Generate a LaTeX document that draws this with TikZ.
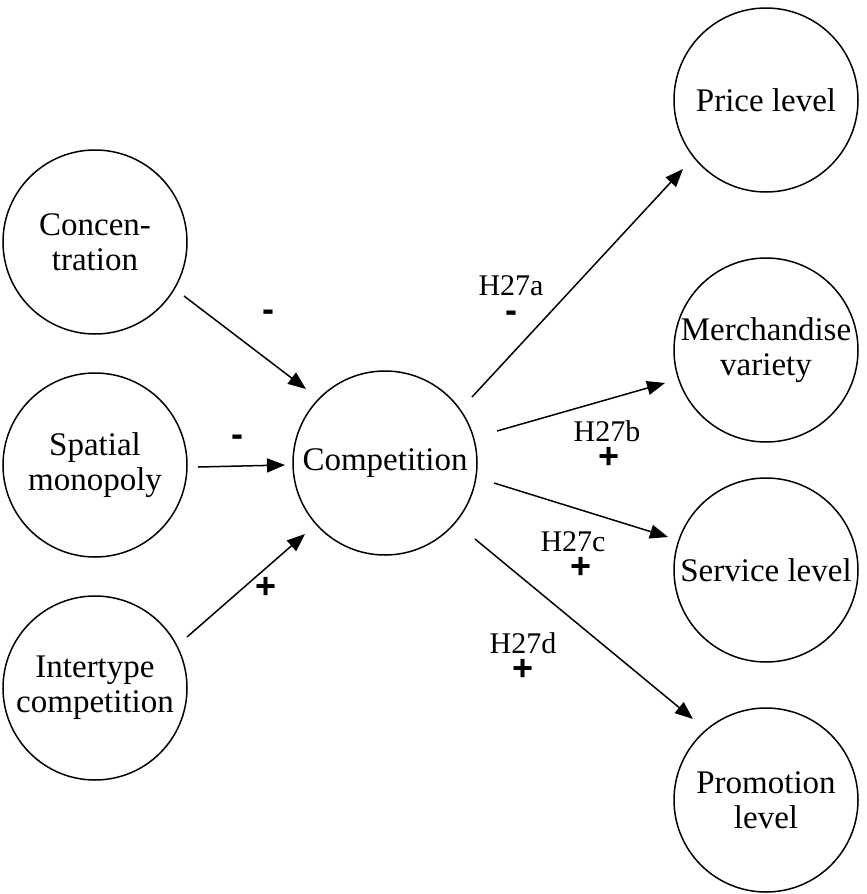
\documentclass[tikz,border=0pt]{standalone}
\usepackage{fontspec}
\setmainfont{Liberation Serif}
\newfontfamily\signfont{Liberation Sans}
\usetikzlibrary{arrows.meta,calc}
\begin{document}
\begin{tikzpicture}[x=1pt,y=-1pt,
  construct/.style={circle,draw,line width=1.5pt,minimum size=184pt,inner sep=0pt,
    align=center,font=\fontsize{33}{35}\selectfont},
  link/.style={line width=1.5pt,-{Triangle[length=18pt,width=14pt]}},
  hyp/.style={inner sep=0pt,align=center,font=\fontsize{30}{27}\selectfont},
  signtext/.style={font=\signfont\bfseries\fontsize{36}{30}\selectfont},
  sign/.style={inner sep=0pt,signtext}]
\useasboundingbox (0,0) rectangle (867,894);
% constructs
\node[construct] (conc) at (95,242) {Concen-\\tration};
\node[construct] (spat) at (95,465) {Spatial\\monopoly};
\node[construct] (inter) at (95,688) {Intertype\\competition};
\node[construct] (comp) at (385,463) {Competition};
\node[construct] (price) at (766,100) {Price level};
\node[construct] (merch) at (766,350) {Merchandise\\variety};
\node[construct] (serv) at (766,570) {Service level};
\node[construct] (promo) at (766,800) {Promotion\\level};
% antecedents of competition
\draw[link] ($(conc)+(89,54)$) -- ($(comp)+(-79,-74)$);
\draw[link] ($(spat)+(103,2)$) -- ($(comp)+(-100,2)$);
\draw[link] ($(inter)+(92,-51)$) -- ($(comp)+(-80,71)$);
% consequences of competition
\draw[link] ($(comp)+(87,-66)$) -- ($(price)+(-83,69)$);
\draw[link] ($(comp)+(112,-32)$) -- ($(merch)+(-101,33)$);
\draw[link] ($(comp)+(109,20)$) -- ($(serv)+(-98,-33)$);
\draw[link] ($(comp)+(90,76)$) -- ($(promo)+(-73,-81)$);
% effect signs on the antecedent paths
\node[sign] (s1) at (268,316) {-};
\node[sign] (s2) at (237,441) {-};
\node[sign] (s3) at (266,588) {+};
% hypotheses with their expected signs
\node[hyp] (h1) at (511,299) {H27a\\{\signfont\bfseries\fontsize{36}{30}\selectfont -}};
\node[hyp] (h2) at (607,445) {H27b\\{\signfont\bfseries\fontsize{36}{30}\selectfont\hspace*{4pt}+}};
\node[hyp] (h3) at (573,555) {H27c\\{\signfont\bfseries\fontsize{36}{30}\selectfont\hspace*{16pt}+}};
\node[hyp] (h4) at (523,657) {H27d\\{\signfont\bfseries\fontsize{36}{30}\selectfont +}};
\end{tikzpicture}
\end{document}
